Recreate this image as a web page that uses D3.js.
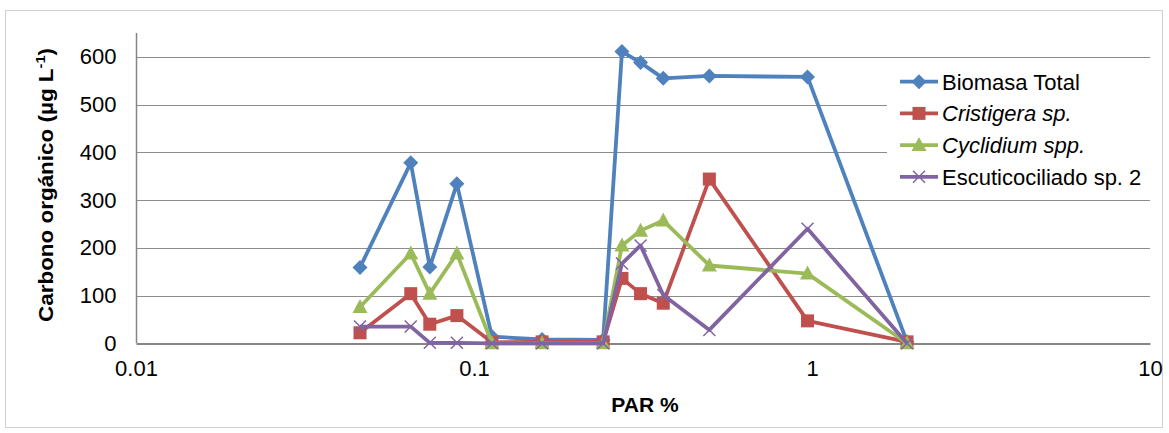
<!DOCTYPE html>
<html>
<head>
<meta charset="utf-8">
<script src="https://cdn.jsdelivr.net/npm/d3@7"></script>
<style>
  html, body { margin: 0; padding: 0; background: #fff; }
  svg { display: block; font-family: "Liberation Sans", Arial, sans-serif; }
</style>
</head>
<body>
<svg id="chart" width="1169" height="433"></svg>
<script>
// PAR (%) at each sampling depth
const par = [0.046, 0.065, 0.074, 0.089, 0.113, 0.159, 0.241, 0.274, 0.311, 0.363, 0.497, 0.97, 1.91];

// Organic carbon (µg L-1) per group
const biomasaTotal = [159, 378, 160, 334, 14, 8, 7, 611, 588, 555, 560, 558, 3];
const cristigera   = [22, 104, 40, 58, 2, 3, 3, 136, 104, 84, 344, 47, 3];
const cyclidium    = [76, 188, 104, 188, 0, 0, 0, 205, 236, 257, 163, 146, 0];
const escutico     = [35, 35, 1, 1, 0, 0, 0, 167, 205, 101, 28, 240, 0];

const seriesNames = ["Biomasa Total", "Cristigera sp.", "Cyclidium spp.", "Escuticociliado sp. 2"];
const xTicks = [0.01, 0.1, 1, 10];
const xTickLabels = ["0.01", "0.1", "1", "10"];
const yTicks = [0, 100, 200, 300, 400, 500, 600];

const series = [
  { name: seriesNames[0], values: biomasaTotal, color: "#4F81BD", marker: "diamond", italic: false },
  { name: seriesNames[1], values: cristigera,   color: "#C0504D", marker: "square",  italic: true },
  { name: seriesNames[2], values: cyclidium,    color: "#9BBB59", marker: "triangle",italic: true },
  { name: seriesNames[3], values: escutico,     color: "#8064A2", marker: "x",       italic: false }
];

const svg = d3.select("#chart");

// outer chart border
svg.append("rect")
  .attr("x", 5.5).attr("y", 10.5).attr("width", 1157).attr("height", 417)
  .attr("fill", "#fff").attr("stroke", "#d0d0d0").attr("stroke-width", 1);

const x = d3.scaleLog().domain([0.01, 10]).range([136, 1150]);
const y = d3.scaleLinear().domain([0, 650]).range([343.3, 33]);

// horizontal gridlines
svg.append("g").selectAll("line").data(yTicks.filter(d => d > 0)).join("line")
  .attr("x1", 136).attr("x2", 1150)
  .attr("y1", d => Math.round(y(d)) + 0.5).attr("y2", d => Math.round(y(d)) + 0.5)
  .attr("stroke", "#8c8c8c").attr("stroke-width", 1.2);

// y axis
const yAxis = svg.append("g").attr("transform", "translate(136.5,0)")
  .call(d3.axisLeft(y).tickValues(yTicks).tickSize(0).tickPadding(20).tickFormat(d3.format("d")));
yAxis.select(".domain").attr("stroke", "#868686").attr("stroke-width", 1.5)
  .attr("d", `M0,${y(650)}V${y(0)}`);
yAxis.selectAll("text").attr("font-size", 22).attr("fill", "#000")
  .attr("font-family", "Liberation Sans, Arial, sans-serif");

// x axis (log)
const xAxis = svg.append("g").attr("transform", `translate(0,${Math.round(y(0)) + 0.5})`)
  .call(d3.axisBottom(x).tickValues(xTicks).tickSize(0).tickPadding(17)
    .tickFormat((d, i) => xTickLabels[i]));
xAxis.select(".domain").attr("stroke", "#868686").attr("stroke-width", 2);
xAxis.selectAll("text").attr("font-size", 22).attr("fill", "#000")
  .attr("font-family", "Liberation Sans, Arial, sans-serif");

// axis titles
const yTitle = svg.append("text")
  .attr("transform", "translate(53,185) rotate(-90)")
  .attr("text-anchor", "middle")
  .attr("font-size", 20).attr("font-weight", "bold")
  .attr("textLength", 274).attr("lengthAdjust", "spacingAndGlyphs");
yTitle.append("tspan").text("Carbono orgánico (µg L");
yTitle.append("tspan").attr("font-size", 13).attr("dy", -8).text("-1");
yTitle.append("tspan").attr("dy", 8).text(")");

svg.append("text")
  .attr("x", 645).attr("y", 412)
  .attr("text-anchor", "middle")
  .attr("font-size", 21).attr("font-weight", "bold")
  .text("PAR %");

// marker drawing
function drawMarker(g, type, color) {
  if (type === "diamond") {
    g.append("path").attr("d", "M0,-7.5L7.5,0L0,7.5L-7.5,0Z").attr("fill", color);
  } else if (type === "square") {
    g.append("rect").attr("x", -6.5).attr("y", -6.5).attr("width", 13).attr("height", 13).attr("fill", color);
  } else if (type === "triangle") {
    g.append("path").attr("d", "M0,-8L7.5,6L-7.5,6Z").attr("fill", color);
  } else if (type === "x") {
    g.append("path").attr("d", "M-6,-6L6,6M-6,6L6,-6")
      .attr("stroke", color).attr("stroke-width", 1.5).attr("fill", "none");
  }
}

const line = d3.line().x(d => x(d[0])).y(d => y(d[1]));

series.forEach(s => {
  const pts = par.map((p, i) => [p, s.values[i]]);
  const g = svg.append("g");
  g.append("path").datum(pts).attr("d", line)
    .attr("fill", "none").attr("stroke", s.color).attr("stroke-width", 3.8)
    .attr("stroke-linejoin", "round");
  pts.forEach(p => {
    drawMarker(g.append("g").attr("transform", `translate(${x(p[0])},${y(p[1])})`), s.marker, s.color);
  });
});

// legend
const legend = svg.append("g");
legend.append("rect").attr("x", 887).attr("y", 62).attr("width", 263).attr("height", 134).attr("fill", "#fff");
series.forEach((s, i) => {
  const cy = 81.7 + i * 31.7;
  const row = legend.append("g");
  row.append("line").attr("x1", 900).attr("x2", 938).attr("y1", cy).attr("y2", cy)
    .attr("stroke", s.color).attr("stroke-width", 3.8);
  drawMarker(row.append("g").attr("transform", `translate(919,${cy})`), s.marker, s.color);
  row.append("text").attr("x", 942).attr("y", cy + 8)
    .attr("font-size", 22).attr("font-style", s.italic ? "italic" : "normal")
    .text(s.name);
});
</script>
</body>
</html>
